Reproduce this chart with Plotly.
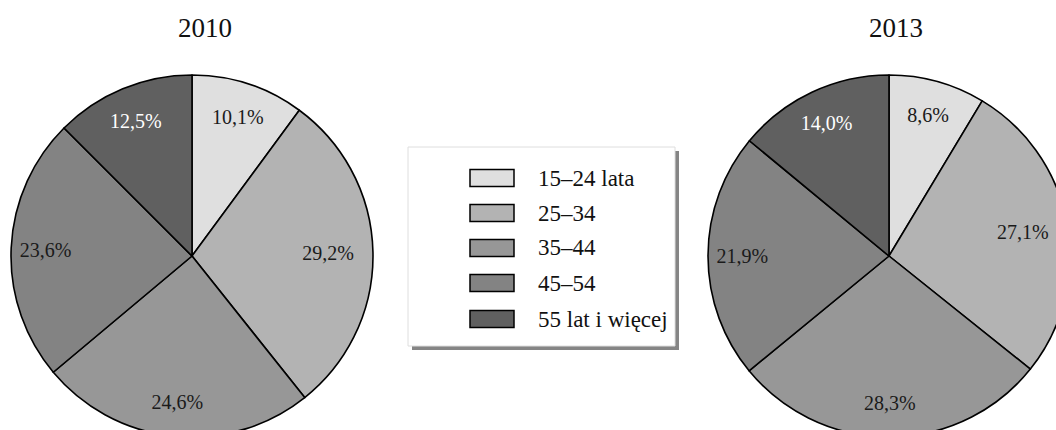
import plotly.graph_objects as go

# ---- data ----
categories = ["15–24 lata", "25–34", "35–44", "45–54", "55 lat i więcej"]
years = ["2010", "2013"]
values_2010 = [10.1, 29.2, 24.6, 23.6, 12.5]
values_2013 = [8.6, 27.1, 28.3, 21.9, 14.0]
colors = ["#dfdfdf", "#b3b3b3", "#979797", "#838383", "#606060"]
label_colors = ["#1a1a1a", "#1a1a1a", "#1a1a1a", "#1a1a1a", "#ffffff"]

# canvas slightly larger than the 1056x430 window so the pies run off the edges
W, H = 1072, 440
FONT = "Liberation Serif, Times New Roman, serif"


def px(x):
    return x / W


def py(y):
    return 1 - y / H


def fmt(v):
    return f"{v:.1f}".replace(".", ",") + "%"


def domain(cx, cy, r):
    return dict(x=[px(cx - r), px(cx + r)], y=[py(cy + r), py(cy - r)])


fig = go.Figure()

centers = [(192, 256), (889, 256)]
R = 181
title_pos = [(205, 28), (896, 28)]
# labels of the 3 o'clock slices sit on a slightly smaller ring
inset = [[1], [1]]
R_INSET = 168

for year, vals, (cx, cy), (tx, ty), ins in zip(
        years, [values_2010, values_2013], centers, title_pos, inset):
    dom = domain(cx, cy, R)
    texts = [fmt(v) for v in vals]
    fig.add_trace(go.Pie(
        values=vals, labels=categories, sort=False, direction="clockwise", rotation=0,
        marker=dict(colors=colors, line=dict(color="black", width=1.6)),
        textinfo="none", domain=dom, showlegend=False, name=year,
        hovertemplate="%{label}: %{value}%<extra>" + year + "</extra>",
    ))
    rings = [(dom, [t if i not in ins else "" for i, t in enumerate(texts)])]
    if ins:
        rings.append((domain(cx, cy, R_INSET),
                      [t if i in ins else "" for i, t in enumerate(texts)]))
    for rdom, rtext in rings:
        fig.add_trace(go.Pie(
            values=vals, labels=categories, sort=False, direction="clockwise", rotation=0,
            hole=0.62,
            marker=dict(colors=["rgba(0,0,0,0)"] * len(vals), line=dict(width=0)),
            text=rtext, textinfo="text", textposition="inside",
            insidetextorientation="horizontal",
            textfont=dict(family=FONT, size=20, color=label_colors),
            domain=rdom, showlegend=False, hoverinfo="skip",
        ))
    fig.add_annotation(
        x=px(tx), y=py(ty), xref="paper", yref="paper", text=year, showarrow=False,
        xanchor="center", yanchor="middle", font=dict(family=FONT, size=27, color="#111"),
    )

# ---- legend (drawn box with shadow) ----
shapes = []
shapes.append(dict(type="rect", xref="paper", yref="paper",
                   x0=px(412), x1=px(679), y0=py(350), y1=py(151),
                   fillcolor="#858585", line=dict(width=0), layer="above"))
shapes.append(dict(type="rect", xref="paper", yref="paper",
                   x0=px(408), x1=px(675), y0=py(346), y1=py(147),
                   fillcolor="white", line=dict(color="#dedede", width=1), layer="above"))
row_y = [178, 213, 248, 283, 319]
for cat, col, ry in zip(categories, colors, row_y):
    shapes.append(dict(type="rect", xref="paper", yref="paper",
                       x0=px(470), x1=px(514), y0=py(ry + 8.5), y1=py(ry - 8.5),
                       fillcolor=col, line=dict(color="black", width=1.5), layer="above"))
    fig.add_annotation(
        x=px(536), y=py(ry), xref="paper", yref="paper", text=cat, showarrow=False,
        xanchor="left", yanchor="middle", font=dict(family=FONT, size=23, color="#111"),
    )

fig.update_layout(
    width=W, height=H,
    margin=dict(l=0, r=0, t=0, b=0),
    paper_bgcolor="white", plot_bgcolor="white",
    shapes=shapes,
    showlegend=False,
    font=dict(family=FONT),
)

fig.write_html(
    "out.html",
    config={"displayModeBar": False},
    post_script="document.body.style.margin='0';document.body.style.overflow='hidden';",
)
